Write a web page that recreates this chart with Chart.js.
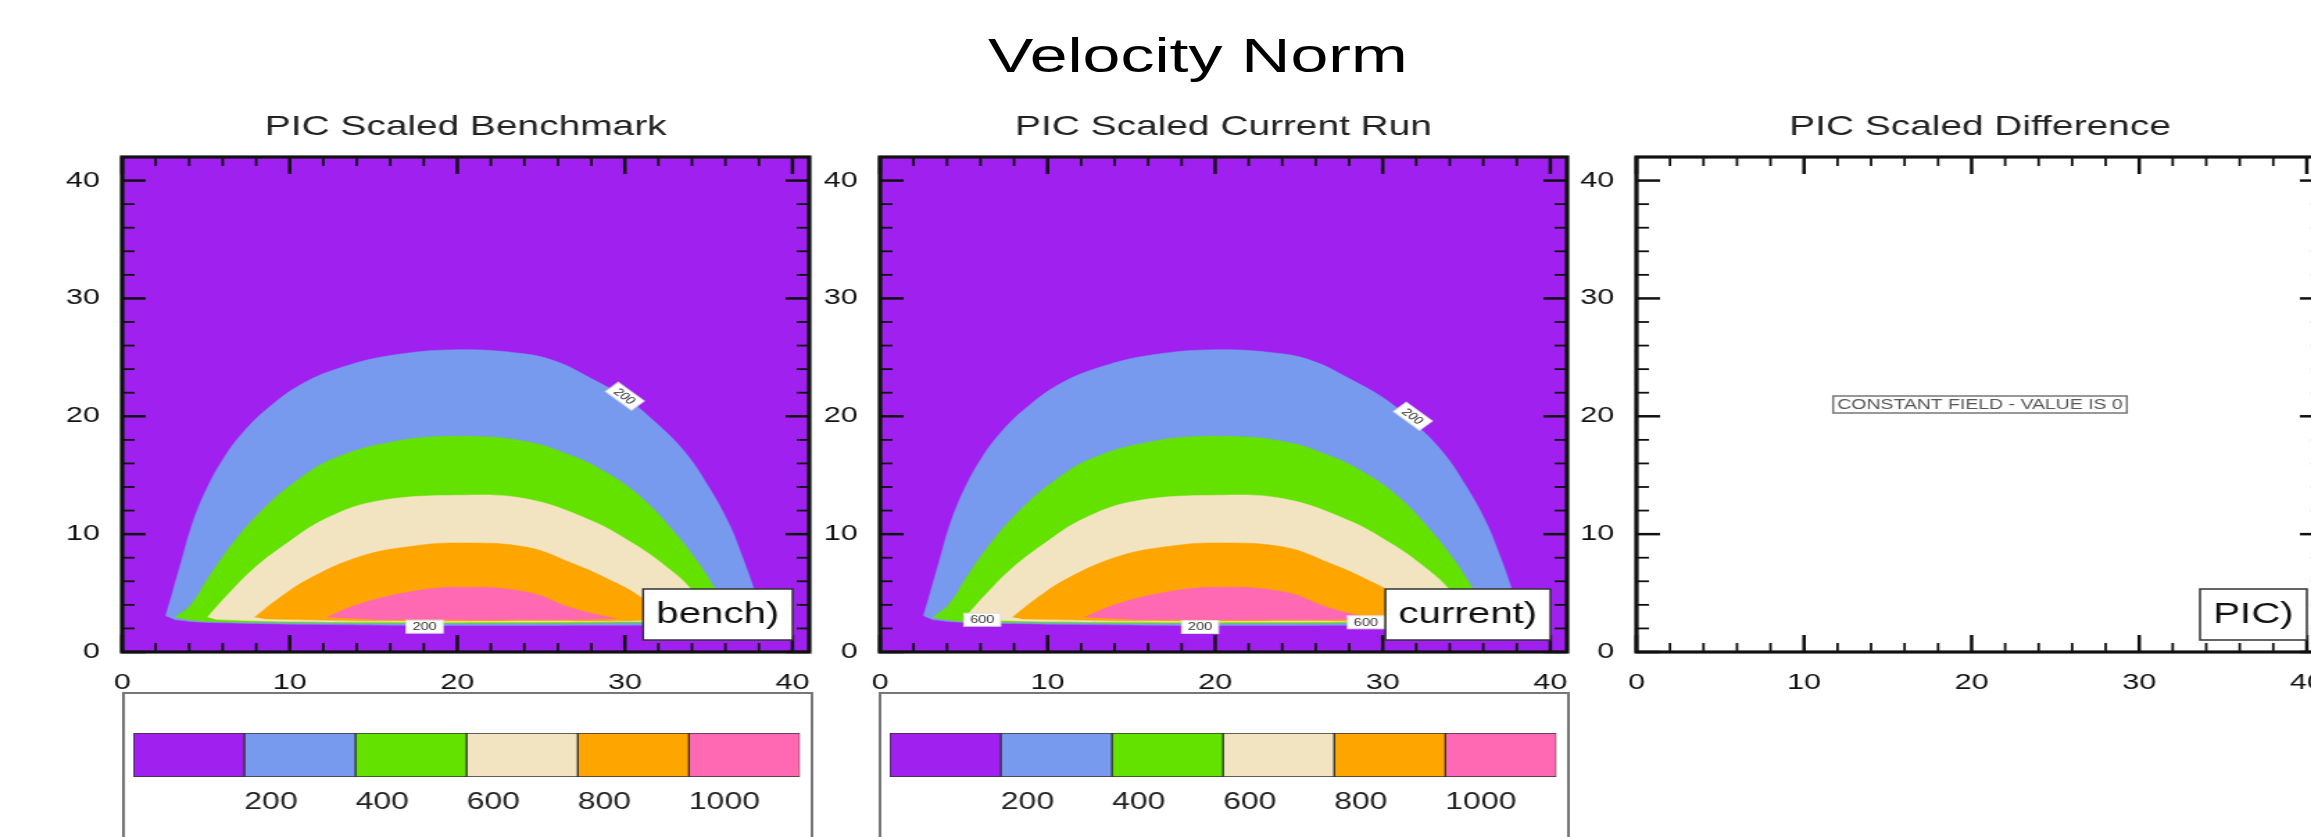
<!DOCTYPE html>
<html>
<head>
<meta charset="utf-8">
<script src="https://cdn.jsdelivr.net/npm/chart.js@4.4.0/dist/chart.umd.min.js"></script>
<style>
  html, body { margin: 0; padding: 0; overflow: hidden; background: #fff; width: 2311px; height: 837px; }
  /* the reference is a square-panel plot stretched sideways, so draw narrow and stretch */
  #page { position: absolute; left: 0; top: 0; width: 1665px; height: 837px; transform: scaleX(1.388); transform-origin: 0 0; }
  #page canvas { position: absolute; }
  #title { position: absolute; left: 563px; width: 600px; top: 31px; text-align: center;
           font: 49px/1 "Liberation Sans", Arial, sans-serif; color: #000; }
</style>
</head>
<body>
<div id="page">
  <div id="title">Velocity Norm</div>
  <canvas id="p0"></canvas>
  <canvas id="p1"></canvas>
  <canvas id="p2"></canvas>
  <canvas id="c0"></canvas>
  <canvas id="c1"></canvas>
</div>
<script>
const FONT = '"Liberation Sans", Arial, Helvetica, sans-serif';

const panelTitles = ['PIC Scaled Benchmark', 'PIC Scaled Current Run', 'PIC Scaled Difference'];
const cornerLabels = ['bench)', 'current)', 'PIC)'];
const xTicks = [0, 10, 20, 30, 40];
const yTicks = [0, 10, 20, 30, 40];
const levels = [200, 400, 600, 800, 1000];
const levelColors = ['#A020F0', '#789AEE', '#63E200', '#F3E4C1', '#FFA500', '#FF69B4'];

// contour band outlines (x, y): upper edge left->right, then lower edge back
const band200 = [[2.6,3.06],[3.0,5.0],[3.6,8.0],[4.2,10.9],[5.0,13.7],[6.0,16.3],[7.2,18.6],[8.8,20.8],
  [10.8,22.8],[13.2,24.2],[16.2,25.2],[20.1,25.65],[24.0,25.3],[26.0,24.6],[28.0,23.2],[30.0,21.6],
  [31.5,19.9],[33.5,17.1],[35.0,14.0],[36.2,10.9],[37.0,8.1],[37.7,5.3],[38.1,3.3],
  [37.6,2.5],[34,2.32],[28,2.27],[22,2.25],[16,2.28],[11,2.35],[7,2.45],[4.5,2.55],[3.1,2.75]];
const band400 = [[3.15,2.95],[4.1,4.0],[5.2,6.4],[6.6,9.2],[8.2,11.8],[10.2,14.3],[12.6,16.4],[16.2,17.85],
  [20.1,18.3],[24.1,17.85],[26.9,16.6],[28.9,15.2],[30.9,13.2],[32.8,10.4],[34.25,7.8],[35.4,5.3],[36.2,3.3],
  [35.8,2.62],[30,2.48],[20,2.43],[10,2.48],[5,2.6],[3.6,2.8]];
const band600 = [[5.1,2.95],[6.2,4.7],[7.8,7.0],[9.8,9.2],[12.2,11.35],[15.2,12.8],[20.1,13.3],[24.1,13.0],
  [27.9,11.2],[30.5,9.2],[32.5,7.2],[33.9,5.4],[34.8,3.3],
  [34.5,2.7],[30,2.58],[20,2.53],[10,2.58],[5.6,2.75]];
const band800 = [[7.9,2.95],[9.2,4.4],[11.2,6.25],[14.2,8.1],[17.15,8.95],[20.1,9.25],[24.1,8.9],[26.9,7.5],
  [28.9,6.25],[30.9,4.7],[32.0,3.2],
  [31.8,2.75],[25,2.65],[15,2.65],[8.5,2.8]];
const band1000 = [[12.2,2.95],[14.2,4.1],[17.15,5.1],[20.1,5.5],[24.1,5.1],[26.9,3.7],[28.9,3.0],[29.4,2.85],
  [25,2.75],[15,2.75]];

// benchmark and current run look the same (difference is a constant 0)
const benchBands = [band200, band400, band600, band800, band1000];
const currentBands = benchBands;

const benchLabels = [{x: 30.0, y: 21.7, text: '200', angle: 45}, {x: 18.05, y: 2.15, text: '200', angle: 0}];
const currentLabels = [{x: 31.8, y: 20.0, text: '200', angle: 45}, {x: 6.1, y: 2.74, text: '600', angle: 0},
  {x: 19.1, y: 2.12, text: '200', angle: 0}, {x: 29.0, y: 2.52, text: '600', angle: 0}];
const diffNote = 'CONSTANT FIELD - VALUE IS 0';

const FIRST_LEFT = 88.1, STEP = 545.6;

function place(canvas, left, top, w, h) {
  canvas.width = w;
  canvas.height = h;
  canvas.style.left = left + 'px';
  canvas.style.top = top + 'px';
  canvas.style.width = w + 'px';
  canvas.style.height = h + 'px';
}

function line(ctx, x1, y1, x2, y2) {
  ctx.beginPath();
  ctx.moveTo(x1, y1);
  ctx.lineTo(x2, y2);
  ctx.stroke();
}

const panelDecor = {
  id: 'panelDecor',
  beforeDatasetsDraw(chart, args, opts) {
    const {ctx, chartArea: a} = chart;
    ctx.save();
    ctx.fillStyle = opts.background;
    ctx.fillRect(a.left, a.top, a.width, a.height);
    ctx.restore();
  },
  afterDraw(chart, args, opts) {
    const {ctx, chartArea: a, scales: {x, y}} = chart;
    ctx.save();

    // little contour line labels
    ctx.font = '10.5px ' + FONT;
    ctx.textAlign = 'center';
    ctx.textBaseline = 'middle';
    for (const lab of opts.contourLabels) {
      ctx.save();
      ctx.translate(x.getPixelForValue(lab.x), y.getPixelForValue(lab.y));
      ctx.rotate(lab.angle * Math.PI / 180);
      const w = ctx.measureText(lab.text).width + 9;
      ctx.fillStyle = '#fff';
      ctx.fillRect(-w / 2, -6.5, w, 13);
      ctx.strokeStyle = '#ddd';
      ctx.lineWidth = 1;
      ctx.strokeRect(-w / 2, -6.5, w, 13);
      ctx.fillStyle = '#333';
      ctx.fillText(lab.text, 0, 0.5);
      ctx.restore();
    }

    if (opts.note) {
      const cx = x.getPixelForValue(20.5), cy = y.getPixelForValue(21);
      ctx.font = '14px ' + FONT;
      const w = ctx.measureText(opts.note).width + 6;
      ctx.fillStyle = '#fff';
      ctx.fillRect(cx - w / 2, cy - 8.5, w, 17);
      ctx.strokeStyle = '#777';
      ctx.lineWidth = 1.5;
      ctx.strokeRect(cx - w / 2, cy - 8.5, w, 17);
      ctx.fillStyle = '#555';
      ctx.fillText(opts.note, cx, cy + 0.5);
    }

    // inward tick marks on all four sides
    ctx.strokeStyle = '#111';
    for (let v = 0; v <= x.max; v += 2) {
      const major = v % 10 === 0;
      const len = major ? 17 : 9;
      ctx.lineWidth = major ? 2.5 : 1.8;
      const px = x.getPixelForValue(v);
      line(ctx, px, a.bottom, px, a.bottom - len);
      line(ctx, px, a.top, px, a.top + len);
    }
    for (let v = 0; v <= y.max; v += 2) {
      const major = v % 10 === 0;
      const len = major ? 17 : 9;
      ctx.lineWidth = major ? 2.5 : 1.8;
      const py = y.getPixelForValue(v);
      line(ctx, a.left, py, a.left + len, py);
      line(ctx, a.right, py, a.right - len, py);
    }
    ctx.lineWidth = 3.2;
    ctx.strokeRect(a.left, a.top, a.width, a.height);

    // corner label box
    ctx.font = '29px ' + FONT;
    const tw = ctx.measureText(opts.corner).width + 19;
    const bx = a.right - 12 - tw, by = a.bottom - 12 - 51;
    ctx.fillStyle = '#fff';
    ctx.fillRect(bx, by, tw, 51);
    ctx.strokeStyle = '#333';
    ctx.lineWidth = 1.5;
    ctx.strokeRect(bx, by, tw, 51);
    ctx.fillStyle = '#111';
    ctx.fillText(opts.corner, bx + tw / 2, by + 26);
    ctx.restore();
  }
};

function panelChart(i, bands, labels, filled) {
  const canvas = document.getElementById('p' + i);
  place(canvas, FIRST_LEFT + i * STEP - 80, 90, 595, 610);
  const datasets = bands.map((pts, k) => ({
    data: pts.map(([x, y]) => ({x, y})),
    showLine: true,
    fill: 'shape',
    backgroundColor: levelColors[k + 1],
    borderColor: levelColors[k + 1],
    borderWidth: 0.5,
    pointRadius: 0,
    tension: 0.4,
    order: bands.length - k
  }));
  const tickFont = {family: FONT, size: 22};
  return new Chart(canvas, {
    type: 'scatter',
    data: {datasets: filled ? datasets : []},
    options: {
      responsive: false,
      animation: false,
      events: [],
      layout: {padding: {left: 0, right: 20, top: 0, bottom: 0}},
      plugins: {
        legend: {display: false},
        tooltip: {enabled: false},
        title: {
          display: true, fullSize: false, text: panelTitles[i], color: '#222',
          font: {family: FONT, size: 28, weight: 'normal'},
          padding: {top: 20, bottom: 13.4}
        },
        panelDecor: {
          background: filled ? levelColors[0] : '#fff',
          contourLabels: labels,
          corner: cornerLabels[i],
          note: filled ? null : diffNote
        }
      },
      scales: {
        x: {
          type: 'linear', min: 0, max: 41,
          afterBuildTicks: s => { s.ticks = xTicks.map(v => ({value: v})); },
          afterFit: s => { s.height = 48; },
          grid: {display: false, drawTicks: false},
          border: {display: false},
          ticks: {padding: 18, color: '#111', font: tickFont, maxRotation: 0, autoSkip: false}
        },
        y: {
          type: 'linear', min: 0, max: 42,
          afterBuildTicks: s => { s.ticks = yTicks.map(v => ({value: v})); },
          afterFit: s => { s.width = 80; },
          grid: {display: false, drawTicks: false},
          border: {display: false},
          ticks: {padding: 16, color: '#111', font: tickFont, autoSkip: false}
        }
      }
    },
    plugins: [panelDecor]
  });
}

const cbFrame = {
  id: 'cbFrame',
  afterDraw(chart) {
    const {ctx, width, height} = chart;
    ctx.save();
    ctx.strokeStyle = '#777';
    ctx.lineWidth = 2;
    ctx.strokeRect(1, 1, width - 2, height + 10);
    ctx.restore();
  }
};

function colorbarChart(i) {
  const canvas = document.getElementById('c' + i);
  place(canvas, FIRST_LEFT - 0.5 + i * STEP, 692, 498, 150);
  return new Chart(canvas, {
    type: 'bar',
    data: {
      labels: [''],
      datasets: levelColors.map(c => ({
        data: [1], backgroundColor: c, borderColor: '#333', borderWidth: 1,
        borderSkipped: false, barPercentage: 1, categoryPercentage: 1
      }))
    },
    options: {
      indexAxis: 'y',
      responsive: false,
      animation: false,
      events: [],
      layout: {padding: {left: 8, right: 9.6, top: 41, bottom: 0}},
      plugins: {legend: {display: false}, tooltip: {enabled: false}},
      scales: {
        x: {
          type: 'linear', stacked: true, min: 0, max: levelColors.length,
          afterBuildTicks: s => { s.ticks = levels.map((_, k) => ({value: k + 1})); },
          afterFit: s => { s.height = 65; },
          grid: {display: false, drawTicks: false},
          border: {display: false},
          ticks: {
            callback: v => levels[v - 1], align: 'start', padding: 12, color: '#222',
            font: {family: FONT, size: 23}, maxRotation: 0, autoSkip: false
          }
        },
        y: {stacked: true, display: false}
      }
    },
    plugins: [cbFrame]
  });
}

panelChart(0, benchBands, benchLabels, true);
panelChart(1, currentBands, currentLabels, true);
panelChart(2, [], [], false);
colorbarChart(0);
colorbarChart(1);
</script>
</body>
</html>
